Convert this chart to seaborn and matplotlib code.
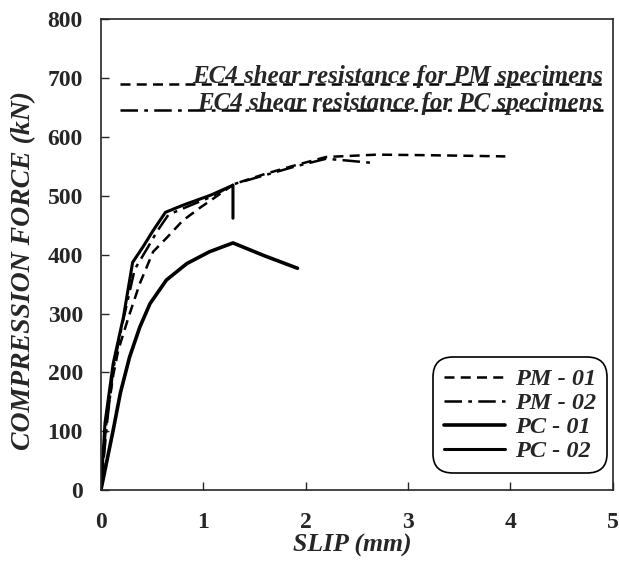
import matplotlib
matplotlib.use("Agg")
import matplotlib.pyplot as plt
import seaborn as sns
import pandas as pd

# ---- data ----
pm01_x = [0, 0.05, 0.12, 0.17, 0.27, 0.38, 0.51, 0.65, 0.8, 0.97, 1.17, 1.3, 1.6, 1.9, 2.2, 2.7, 3.2, 3.6, 3.95]
pm01_y = [0, 110, 195, 238, 294, 351, 405, 430, 458, 480, 504, 520, 537, 552, 566, 570, 569, 568, 567]

pm02_x = [0, 0.06, 0.12, 0.2, 0.33, 0.45, 0.55, 0.66, 0.85, 1.1, 1.3, 1.6, 1.9, 2.2, 2.4, 2.65]
pm02_y = [0, 115, 205, 275, 375, 410, 440, 468, 482, 500, 520, 535, 550, 563, 560, 556]

pc01_x = [0, 0.12, 0.19, 0.28, 0.38, 0.48, 0.64, 0.84, 1.06, 1.29, 1.6, 1.92]
pc01_y = [0, 102, 165, 226, 277, 317, 357, 385, 405, 420, 398, 377]

pc02_x = [0, 0.04, 0.12, 0.22, 0.31, 0.41, 0.51, 0.63, 0.8, 1.07, 1.29, 1.29]
pc02_y = [0, 114, 215, 294, 387, 413, 441, 472, 484, 501, 518, 462]

ec4_labels = ["EC4 shear resistance for PM specimens", "EC4 shear resistance for PC specimens"]
ec4_values = [690, 645]
ec4_x = [0.185, 4.9]

series_names = ["PM - 01", "PM - 02", "PC - 01", "PC - 02"]

sns.set_style("ticks")
plt.rcParams['font.family'] = ['Liberation Serif', 'DejaVu Serif']
plt.rcParams['font.weight'] = 'bold'

fig = plt.figure(figsize=(6.19, 5.66), dpi=100)
ax = fig.add_axes([0.163, 0.134, 0.827, 0.832])

styles = [
    dict(linestyle=(0, (4, 2.5)), linewidth=1.8),
    dict(linestyle=(0, (7, 2.5, 1.5, 2.5)), linewidth=1.8),
    dict(linestyle='-', linewidth=2.6),
    dict(linestyle='-', linewidth=2.2),
]
data = [(pm01_x, pm01_y), (pm02_x, pm02_y), (pc01_x, pc01_y), (pc02_x, pc02_y)]
for name, (xs, ys), st in zip(series_names, data, styles):
    df = pd.DataFrame({"x": xs, "y": ys})
    sns.lineplot(data=df, x="x", y="y", sort=False, estimator=None, ax=ax,
                 color="black", label=name, **st)

# EC4 reference lines with labels
ec4_styles = [(0, (4, 2.5)), (0, (7, 2.5, 1.5, 2.5))]
for lab, val, ls in zip(ec4_labels, ec4_values, ec4_styles):
    ax.plot(ec4_x, [val, val], color="black", linestyle=ls, linewidth=1.8)
    ax.text(ec4_x[1], val + 1, lab, ha="right", va="baseline", fontsize=18,
            fontweight="bold", fontstyle="italic")

ax.set_xlim(0, 5)
ax.set_ylim(0, 800)
ax.set_xticks([0, 1, 2, 3, 4, 5])
ax.set_yticks(range(0, 801, 100))
ax.tick_params(direction="in", length=6, width=1, labelsize=17)
ax.tick_params(axis="x", pad=16)
ax.tick_params(axis="y", pad=13)
for lbl in ax.get_xticklabels() + ax.get_yticklabels():
    lbl.set_fontweight("bold")
for sp in ax.spines.values():
    sp.set_linewidth(1.2)
    sp.set_visible(True)

ax.set_xlabel("SLIP (mm)", fontsize=18.5, fontweight="bold", fontstyle="italic")
ax.set_ylabel("COMPRESSION FORCE (kN)", fontsize=20, fontweight="bold", fontstyle="italic")
ax.xaxis.label.set_va("center")
ax.yaxis.label.set_va("center")
ax.xaxis.set_label_coords(0.491, -0.117)
ax.yaxis.set_label_coords(-0.151, 0.467)

leg = ax.legend(loc="lower right", bbox_to_anchor=(0.988, 0.036), fancybox=True,
                frameon=True, edgecolor="black", framealpha=1, handlelength=2.5,
                labelspacing=0.08, handletextpad=0.4, borderpad=0.45, borderaxespad=0,
                prop=dict(family='Liberation Serif', weight='bold', style='italic', size=17.5))
leg.get_frame().set_linewidth(1.2)
leg.get_frame().set_boxstyle("round", pad=0.0, rounding_size=0.8)

fig.savefig("out.png", dpi=100)
